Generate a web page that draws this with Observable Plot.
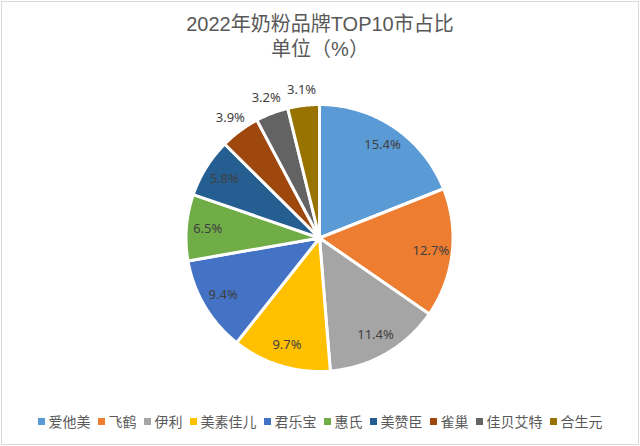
<!DOCTYPE html>
<html><head><meta charset="utf-8">
<script src="https://cdn.jsdelivr.net/npm/d3@7"></script>
<script src="https://cdn.jsdelivr.net/npm/@observablehq/plot@0.6"></script>
<style>
body{margin:0;background:#fff;}
#wrap{position:relative;width:640px;height:446px;overflow:hidden;background:#fff;font-family:"Noto Sans CJK SC","Noto Sans",sans-serif;}
#frame{position:absolute;left:1px;top:1px;width:636px;height:442px;border:1px solid #d9d9d9;}
#title{position:absolute;left:0;top:12px;width:640px;text-align:center;font-family:"Liberation Sans","Noto Sans CJK SC",sans-serif;font-size:20px;line-height:25px;color:#595959;}
#chart{position:absolute;left:0;top:70px;}
#legend{position:absolute;left:0;top:411px;width:640px;display:flex;justify-content:center;align-items:center;font-size:14px;line-height:20px;color:#595959;}
.item{display:flex;align-items:center;margin:0 3.5px;}
.sw{width:7px;height:7px;margin-right:4px;}
</style></head><body>
<div id="wrap"><div id="frame"></div><div id="title"></div><div id="chart"></div><div id="legend"></div></div>
<script>
const titleLines = ["2022年奶粉品牌TOP10市占比", "单位（%）"];
const brands = ["爱他美", "飞鹤", "伊利", "美素佳儿", "君乐宝", "惠氏", "美赞臣", "雀巢", "佳贝艾特", "合生元"];
const shares = [15.4, 12.7, 11.4, 9.7, 9.4, 6.5, 5.8, 3.9, 3.2, 3.1];
const colors = ["#5B9BD5", "#ED7D31", "#A5A5A5", "#FFC000", "#4472C4", "#70AD47", "#255E91", "#9E480E", "#636363", "#997300"];

document.getElementById("title").innerHTML = titleLines.map(t => `<div>${t}</div>`).join("");

const arcs = d3.pie().sort(null).value(d => d)(shares);
const slices = arcs.map((p, i) => {
  const n = Math.max(4, Math.ceil((p.endAngle - p.startAngle) / 0.01));
  const ring = [[0, 0]];
  for (let k = 0; k <= n; k++) {
    const a = p.startAngle + (p.endAngle - p.startAngle) * k / n;
    ring.push([Math.sin(a), -Math.cos(a)]);
  }
  ring.push([0, 0]);
  return {type: "Feature", properties: {brand: brands[i], value: shares[i]}, geometry: {type: "Polygon", coordinates: [ring]}};
});
const labels = arcs.map((p, i) => {
  const a = (p.startAngle + p.endAngle) / 2;
  const r = (p.endAngle - p.startAngle) < 0.33 ? 1.12 : 0.84;
  return {x: r * Math.sin(a), y: -r * Math.cos(a), text: shares[i].toFixed(1) + "%"};
});

const chart = Plot.plot({
  width: 640,
  height: 330,
  margin: 0,
  insetLeft: 185,
  insetRight: 187,
  insetTop: 34,
  insetBottom: 29,
  projection: {type: "identity", domain: {type: "FeatureCollection", features: slices}},
  color: {domain: brands, range: colors},
  marks: [
    Plot.geo(slices, {fill: d => d.properties.brand, stroke: "white", strokeWidth: 3, strokeLinejoin: "round"}),
    Plot.text(labels, {x: "x", y: "y", text: "text", fontSize: 13, fill: "#404040", fontFamily: "Noto Sans"})
  ]
});
document.getElementById("chart").appendChild(chart);

document.getElementById("legend").innerHTML = brands.map((b, i) =>
  `<div class="item"><div class="sw" style="background:${colors[i]}"></div><span>${b}</span></div>`).join("");
</script>
</body></html>
